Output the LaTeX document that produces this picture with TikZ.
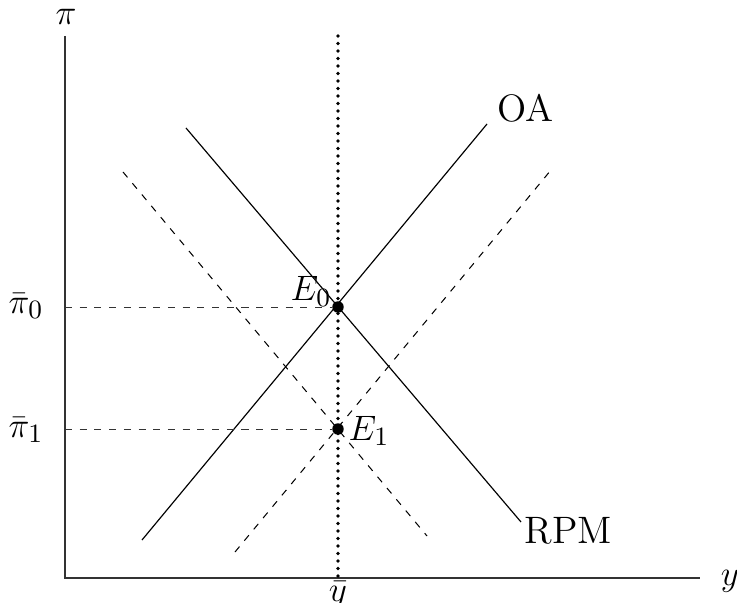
\documentclass[tikz,border=0pt]{standalone}
\begin{document}
\begin{tikzpicture}[x=0.34pt,y=-0.34pt,
  font=\fontsize{13}{15}\selectfont,
  axisline/.style={line width=0.5pt,black!80},
  curve/.style={line width=0.4pt},
  shifted/.style={line width=0.35pt,dash pattern=on 2.4pt off 2.6pt},
  guide/.style={line width=0.3pt,black!80,dash pattern=on 2.4pt off 2.6pt},
  dotline/.style={line width=1.25pt,line cap=round,dash pattern=on 0pt off 2.55pt},
  eqpt/.style={circle,fill=black,inner sep=0pt,minimum size=3.9pt},
  lab/.style={anchor=base,inner sep=0pt}]
\useasboundingbox (0,0) rectangle (737,603);
% axes
\coordinate (O) at (65,578);
\coordinate (Ytop) at (65,36);
\coordinate (Xend) at (700,578);
\draw[axisline] (Ytop) -- (O) -- (Xend);
\node[lab] (pilab) at (66,25) {$\pi$};
\node[lab] (ylab) at (730,585) {$y$};
% potential output
\coordinate (Dtop) at (338,36);
\coordinate (Dbot) at (338,578);
\draw[dotline] (Dtop) -- (Dbot);
\node[lab] (ybar) at (338,601) {$\bar y$};
% equilibrium points
\node[eqpt] (E0) at (338,307) {};
\node[eqpt] (E1) at (338,429) {};
% solid curves
\coordinate (OAa) at (142,540);
\coordinate (OAb) at (487,124);
\coordinate (RPMa) at (186,128);
\coordinate (RPMb) at (521,522);
\draw[curve] (OAa) -- (OAb);
\draw[curve] (RPMa) -- (RPMb);
\node[lab,anchor=base west] (OAlab) at (497,122) {OA};
\node[lab,anchor=base west] (RPMlab) at (524,543) {RPM};
% shifted curves
\coordinate (OA2a) at (235,552);
\coordinate (OA2b) at (551,170);
\coordinate (RPM2a) at (123,172);
\coordinate (RPM2b) at (427,536);
\draw[shifted] (OA2a) -- (OA2b);
\draw[shifted] (RPM2a) -- (RPM2b);
% guides
\coordinate (P0) at (65,307);
\coordinate (P1) at (65,429);
\draw[guide] (P0) -- (E0);
\draw[guide] (P1) -- (E1);
\node[lab] (pi0) at (26,313) {$\bar\pi_0$};
\node[lab] (pi1) at (26,437) {$\bar\pi_1$};
\node[lab] (E0lab) at (311,301) {$E_0$};
\node[lab] (E1lab) at (369,440) {$E_1$};
\end{tikzpicture}
\end{document}
